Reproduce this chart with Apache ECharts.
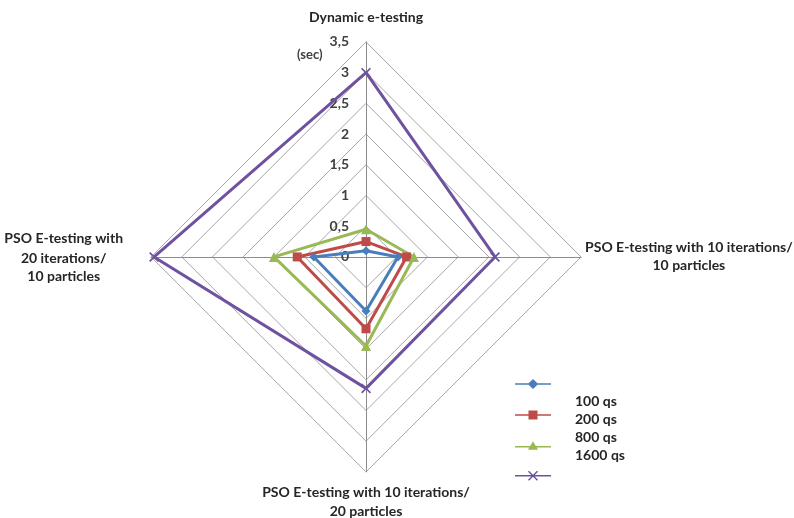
<!DOCTYPE html>
<html><head><meta charset="utf-8">
<script src="https://cdn.jsdelivr.net/npm/echarts@6/dist/echarts.min.js"></script>
<style>html,body{margin:0;padding:0;background:#fff}#c{width:794px;height:518px}</style>
</head><body><div id="c"></div>
<script>
// Indicators in radar order (top, left, bottom, right)
var indicatorNames = [
  'Dynamic e-testing',
  'PSO E-testing with\n20 iterations/\n10 particles',
  'PSO E-testing with 10 iterations/\n20 particles',
  'PSO E-testing with 10 iterations/\n10 particles'
];
var seriesNames = ['100 qs', '200 qs', '800 qs', '1600 qs'];
var values100 = [0.1, 0.85, 0.88, 0.52];
var values200 = [0.25, 1.12, 1.17, 0.66];
var values800 = [0.45, 1.5, 1.45, 0.78];
var values1600 = [3.0, 3.45, 2.14, 2.1];
var axisMax = 3.5;
var axisStep = 0.5;

var colors = ['#4A7EBB', '#BE4B48', '#98B954', '#6E52A0'];
var xPath = 'path://M0,1.2L1.2,0L5,3.8L8.8,0L10,1.2L6.2,5L10,8.8L8.8,10L5,6.2L1.2,10L0,8.8L3.8,5Z';
var symbols = ['diamond', 'rect', 'triangle', xPath];
var symbolSizes = [9, 9, 10, 10];
var allValues = [values100, values200, values800, values1600];

// legend icons: line + marker (36 x 10 box)
var legendIcons = [
  'path://M0,4.2L13.5,4.2L18,0L22.5,4.2L36,4.2L36,5.8L22.5,5.8L18,10L13.5,5.8L0,5.8Z',
  'path://M0,4.2L13.5,4.2L13.5,0.5L22.5,0.5L22.5,4.2L36,4.2L36,5.8L22.5,5.8L22.5,9.5L13.5,9.5L13.5,5.8L0,5.8Z',
  'path://M0,5.2L15.2,5.2L18,0.5L20.8,5.2L36,5.2L36,6.8L21.7,6.8L23,9L13,9L14.3,6.8L0,6.8Z',
  'path://M0,4.2L36,4.2L36,5.8L0,5.8Z M13,1L14,0L18,4L22,0L23,1L19,5L23,9L22,10L18,6L14,10L13,9L17,5Z'
];

var FONT = 'Lato';
var TXT = '#262626';
var chart = echarts.init(document.getElementById('c'));

var indicator = indicatorNames.map(function (n, i) {
  var o = { name: n, min: 0, max: axisMax };
  if (i === 0) o.axisLabel = { show: true };
  return o;
});

var nameStyles = ['t', 'l', 'b', 'r'];
function tok(pad, lh) {
  return { align: 'center', fontFamily: FONT, fontSize: 14, fontWeight: 'bold', color: TXT, lineHeight: lh || 18, padding: pad };
}

var series = [{
  type: 'radar',
  data: allValues.map(function (v, i) {
    return {
      name: seriesNames[i],
      value: v,
      symbol: symbols[i],
      symbolSize: symbolSizes[i],
      itemStyle: { color: colors[i] },
      lineStyle: { color: colors[i], width: 3 }
    };
  })
}];

chart.setOption({
  animation: false,
  color: colors,
  title: {
    text: '(sec)', left: 292, top: 43,
    textStyle: { fontFamily: FONT, fontSize: 13, fontWeight: 'bold', color: '#404040' }
  },
  legend: [{
    orient: 'vertical', left: 510, top: 374,
    itemWidth: 36, itemHeight: 10, itemGap: 21,
    data: seriesNames.map(function (n, i) { return { name: n, icon: legendIcons[i] }; }),
    formatter: function () { return ''; },
    textStyle: { fontSize: 1 }
  }, {
    orient: 'vertical', left: 564, top: 389,
    itemWidth: 1, itemHeight: 14, itemGap: 4.3,
    data: seriesNames,
    itemStyle: { opacity: 0 }, lineStyle: { opacity: 0 },
    textStyle: { fontFamily: FONT, fontSize: 14, fontWeight: 'bold', color: TXT }
  }],
  radar: {
    center: ['46.1%', '49.6%'],
    radius: 215,
    startAngle: 90,
    shape: 'polygon',
    splitNumber: Math.round(axisMax / axisStep),
    indicator: indicator,
    nameGap: 4,
    axisName: {
      color: TXT, fontFamily: FONT, fontSize: 14, fontWeight: 'bold', lineHeight: 18,
      formatter: function (v) {
        var k = nameStyles[indicatorNames.indexOf(v)];
        var lines = v.split('\n');
        return lines.map(function (s, j) {
          return '{' + k + (j === 0 ? '0' : '') + '|' + s + '}';
        }).join('\n');
      },
      rich: {
        t0: tok([0, 0, 11, 0]), t: tok([0, 0, 0, 0]),
        l0: tok([0, 24, 0, 0], 22), l: tok([0, 24, 0, 0]),
        b0: tok([0, 0, 0, 0], 34), b: tok([0, 0, 0, 0], 4),
        r0: tok([0, 0, 0, 0]), r: tok([0, 0, 0, 0])
      }
    },
    splitArea: { show: false },
    splitLine: { lineStyle: { color: '#A6A6A6', width: 1 } },
    axisLine: { lineStyle: { color: '#8C8C8C', width: 1 } },
    axisTick: { show: false },
    axisLabel: {
      show: false, color: '#404040', fontFamily: FONT, fontSize: 14, fontWeight: 'bold',
      margin: 17,
      formatter: function (v) { return String(v).replace('.', ','); }
    }
  },
  series: series
});
</script></body></html>
